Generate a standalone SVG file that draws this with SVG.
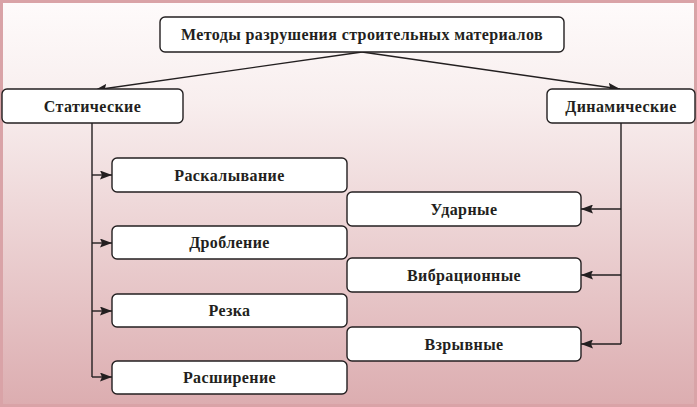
<svg xmlns="http://www.w3.org/2000/svg" width="697" height="407" viewBox="0 0 697 407">
<defs>
<linearGradient id="bg" x1="0" y1="0" x2="0" y2="1">
<stop offset="0" stop-color="#fefbfb"/>
<stop offset="0.25" stop-color="#f8eeee"/>
<stop offset="1" stop-color="#dcadb0"/>
</linearGradient>
<marker id="ah" viewBox="0 0 12 9" refX="12" refY="4.5" markerWidth="12" markerHeight="9" markerUnits="userSpaceOnUse" orient="auto">
<path d="M0,0 L12,4.5 L0,9 L2,4.5 Z" fill="#231f20"/>
</marker>
<style>
.box{fill:#ffffff;stroke:#231f20;stroke-width:1.4}
.t{font-family:"Liberation Serif","Times New Roman",serif;font-weight:bold;font-size:16px;letter-spacing:0.4px;fill:#231f20;text-anchor:middle}
.c{fill:none;stroke:#231f20;stroke-width:1.4}
.ca{fill:none;stroke:#231f20;stroke-width:1.4;marker-end:url(#ah)}
</style>
</defs>
<rect x="1.5" y="1.5" width="694" height="404" fill="url(#bg)" stroke="#d9a3a7" stroke-width="3"/>
<g id="connectors">
<path class="ca" d="M362,52 L95,90"/>
<path class="ca" d="M362,52 L620,89"/>
<path class="c" d="M92,123 V377"/>
<path class="ca" d="M92,175 H112"/>
<path class="ca" d="M92,243 H112"/>
<path class="ca" d="M92,311 H112"/>
<path class="ca" d="M92,377 H112"/>
<path class="c" d="M621,123 V344"/>
<path class="ca" d="M621,209 H581"/>
<path class="ca" d="M621,275 H581"/>
<path class="ca" d="M621,344 H581"/>
</g>
<g id="root"><rect class="box" x="160" y="17" width="404" height="35" rx="5"/><text class="t" x="362" y="40">Методы разрушения строительных материалов</text></g>
<g id="static"><rect class="box" x="2" y="89" width="181" height="34" rx="5"/><text class="t" x="92.5" y="111.5">Статические</text></g>
<g id="dynamic"><rect class="box" x="547" y="89" width="148" height="34" rx="5"/><text class="t" x="621" y="111.5">Динамические</text></g>
<g id="split"><rect class="box" x="112" y="158" width="235" height="34" rx="5"/><text class="t" x="229.5" y="180.5">Раскалывание</text></g>
<g id="crush"><rect class="box" x="112" y="226" width="235" height="33" rx="5"/><text class="t" x="229.5" y="248">Дробление</text></g>
<g id="cut"><rect class="box" x="112" y="294" width="235" height="33" rx="5"/><text class="t" x="229.5" y="316">Резка</text></g>
<g id="expand"><rect class="box" x="112" y="361" width="235" height="33" rx="5"/><text class="t" x="229.5" y="383">Расширение</text></g>
<g id="impact"><rect class="box" x="347" y="192" width="234" height="34" rx="5"/><text class="t" x="464" y="214.5">Ударные</text></g>
<g id="vibro"><rect class="box" x="347" y="258" width="234" height="34" rx="5"/><text class="t" x="464" y="280.5">Вибрационные</text></g>
<g id="blast"><rect class="box" x="347" y="327" width="234" height="34" rx="5"/><text class="t" x="464" y="349.5">Взрывные</text></g>
</svg>
